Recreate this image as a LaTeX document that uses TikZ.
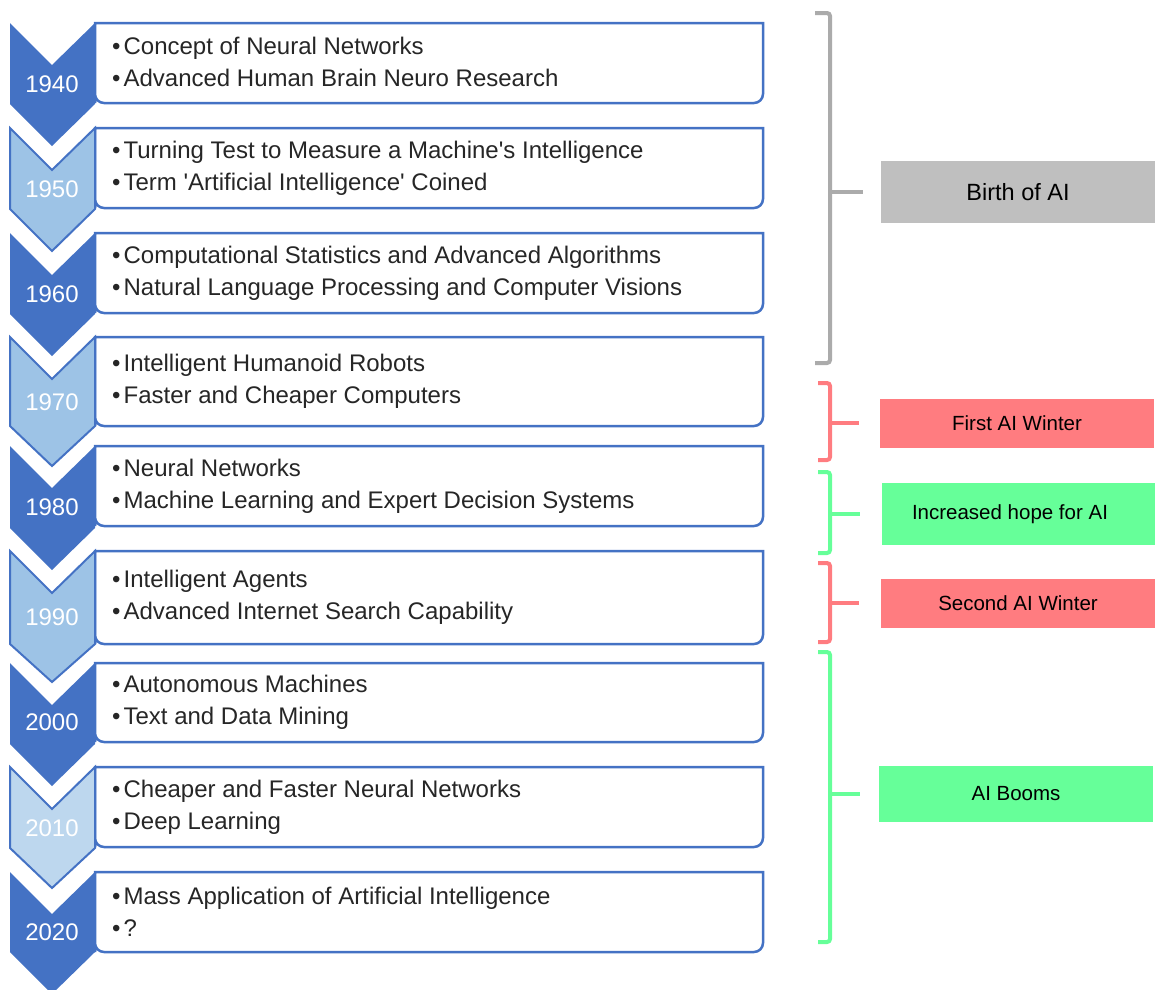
\documentclass[tikz,border=0pt]{standalone}
\usepackage{fontspec}
\setmainfont{Liberation Sans}
\usepackage{xcolor}
\usepackage{tikz}
\definecolor{chevdark}{HTML}{4472C4}
\definecolor{chevlight}{HTML}{9DC3E6}
\definecolor{chevpale}{HTML}{BDD7EE}
\definecolor{birthgray}{HTML}{BFBFBF}
\definecolor{brkgray}{HTML}{ABABAB}
\definecolor{winterred}{HTML}{FF7C80}
\definecolor{hopegreen}{HTML}{66FF99}
\tikzset{
  chevdk/.style={fill=chevdark, draw=none},
  chevlt/.style={fill=chevlight, draw=chevdark, line width=2pt, line join=miter},
  chevpl/.style={fill=chevpale, draw=chevdark, line width=2pt, line join=miter},
  itemframe/.style={draw=chevdark, line width=2.5pt, fill=white},
  itemtext/.style={anchor=west, align=left, inner sep=0pt, text=black!85, font=\fontsize{24}{32}\selectfont},
  yearlbl/.style={text=white, inner sep=0pt, font=\fontsize{24}{28}\selectfont},
  tagbox/.style={minimum width=274pt, inner sep=0pt, text=black},
  brk/.style={line width=4pt, line cap=butt, rounded corners=3pt},
}

\begin{document}
\begin{tikzpicture}[x=1pt, y=-1pt]
\useasboundingbox (0,0) rectangle (1155,989);
\coordinate (brx) at (830,0);

% 1940
\draw[itemframe] (95,103) -- (95,23) -- (763,23) [rounded corners=9pt] -- (763,103) -- (95,103) [sharp corners] -- cycle;
\draw[chevdk] (10,23) -- (52,65) -- (95,23) -- (95,104) -- (52,146) -- (10,104) -- cycle;
\node[yearlbl] (y1940) at (52,84) {1940};
\node[itemtext] (t1940) at (112,62) {\textbullet\hspace{3pt}Concept of Neural Networks\\\textbullet\hspace{3pt}Advanced Human Brain Neuro Research};

% 1950
\draw[itemframe] (95,208) -- (95,128) -- (763,128) [rounded corners=9pt] -- (763,208) -- (95,208) [sharp corners] -- cycle;
\draw[chevlt] (10,128) -- (52,170) -- (95,128) -- (95,209) -- (52,251) -- (10,209) -- cycle;
\node[yearlbl] (y1950) at (52,189) {1950};
\node[itemtext] (t1950) at (112,168) {\textbullet\hspace{3pt}Turning Test to Measure a Machine\textquotesingle s Intelligence\\\textbullet\hspace{3pt}Term \textquotesingle Artificial Intelligence\textquotesingle\ Coined};

% 1960
\draw[itemframe] (95,313) -- (95,233) -- (763,233) [rounded corners=9pt] -- (763,313) -- (95,313) [sharp corners] -- cycle;
\draw[chevdk] (10,233) -- (52,275) -- (95,233) -- (95,314) -- (52,356) -- (10,314) -- cycle;
\node[yearlbl] (y1960) at (52,294) {1960};
\node[itemtext] (t1960) at (112,273) {\textbullet\hspace{3pt}Computational Statistics and Advanced Algorithms\\\textbullet\hspace{3pt}Natural Language Processing and Computer Visions};

% 1970
\draw[itemframe] (95,426) -- (95,337) -- (763,337) [rounded corners=9pt] -- (763,426) -- (95,426) [sharp corners] -- cycle;
\draw[chevlt] (10,337) -- (52,379) -- (95,337) -- (95,426) -- (52,466) -- (10,426) -- cycle;
\node[yearlbl] (y1970) at (52,402) {1970};
\node[itemtext] (t1970) at (112,381) {\textbullet\hspace{3pt}Intelligent Humanoid Robots\\\textbullet\hspace{3pt}Faster and Cheaper Computers};

% 1980
\draw[itemframe] (95,526) -- (95,446) -- (763,446) [rounded corners=9pt] -- (763,526) -- (95,526) [sharp corners] -- cycle;
\draw[chevdk] (10,446) -- (52,488) -- (95,446) -- (95,528) -- (52,570) -- (10,528) -- cycle;
\node[yearlbl] (y1980) at (52,507) {1980};
\node[itemtext] (t1980) at (112,486) {\textbullet\hspace{3pt}Neural Networks\\\textbullet\hspace{3pt}Machine Learning and Expert Decision Systems};

% 1990
\draw[itemframe] (95,644) -- (95,551) -- (763,551) [rounded corners=9pt] -- (763,644) -- (95,644) [sharp corners] -- cycle;
\draw[chevlt] (10,551) -- (52,593) -- (95,551) -- (95,644) -- (52,682) -- (10,644) -- cycle;
\node[yearlbl] (y1990) at (52,617) {1990};
\node[itemtext] (t1990) at (112,597) {\textbullet\hspace{3pt}Intelligent Agents\\\textbullet\hspace{3pt}Advanced Internet Search Capability};

% 2000
\draw[itemframe] (95,742) -- (95,663) -- (763,663) [rounded corners=9pt] -- (763,742) -- (95,742) [sharp corners] -- cycle;
\draw[chevdk] (10,663) -- (52,705) -- (95,663) -- (95,744) -- (52,786) -- (10,744) -- cycle;
\node[yearlbl] (y2000) at (52,722) {2000};
\node[itemtext] (t2000) at (112,702) {\textbullet\hspace{3pt}Autonomous Machines\\\textbullet\hspace{3pt}Text and Data Mining};

% 2010
\draw[itemframe] (95,847) -- (95,767) -- (763,767) [rounded corners=9pt] -- (763,847) -- (95,847) [sharp corners] -- cycle;
\draw[chevpl] (10,767) -- (52,809) -- (95,767) -- (95,848) -- (52,888) -- (10,848) -- cycle;
\node[yearlbl] (y2010) at (52,828) {2010};
\node[itemtext] (t2010) at (112,807) {\textbullet\hspace{3pt}Cheaper and Faster Neural Networks\\\textbullet\hspace{3pt}Deep Learning};

% 2020
\draw[itemframe] (95,952) -- (95,872) -- (763,872) [rounded corners=9pt] -- (763,952) -- (95,952) [sharp corners] -- cycle;
\draw[chevdk] (10,872) -- (52,914) -- (95,872) -- (95,952) -- (52,994) -- (10,952) -- cycle;
\node[yearlbl] (y2020) at (52,932) {2020};
\node[itemtext] (t2020) at (112,912) {\textbullet\hspace{3pt}Mass Application of Artificial Intelligence\\\textbullet\hspace{3pt}?};

% eras
\node[tagbox, fill=birthgray, minimum height=62pt, font=\fontsize{23.5}{26}\selectfont] (birth) at (1018,192) {Birth of AI};
\node[tagbox, fill=winterred, minimum height=49pt, font=\fontsize{20.5}{24}\selectfont] (winter1) at (1017,423) {First AI Winter};
\node[tagbox, fill=hopegreen, minimum height=62pt, font=\fontsize{20.5}{24}\selectfont] (hope) at (1019,514) {\hspace*{-18pt}Increased hope for AI};
\node[tagbox, fill=winterred, minimum height=49pt, font=\fontsize{20.5}{24}\selectfont] (winter2) at (1018,603) {Second AI Winter};
\node[tagbox, fill=hopegreen, minimum height=56pt, font=\fontsize{20.5}{24}\selectfont] (booms) at (1016,794) {AI Booms};

\draw[brk, draw=brkgray] (815,13) -- (830,13) -- (830,363) -- (815,363);
\draw[brk, draw=brkgray] ([xshift=-18pt]birth.west) -- (birth.west -| brx);
\draw[brk, draw=winterred] (818,383) -- (830,383) -- (830,460) -- (818,460);
\draw[brk, draw=winterred] ([xshift=-21pt]winter1.west) -- (winter1.west -| brx);
\draw[brk, draw=hopegreen] (818,472) -- (830,472) -- (830,553) -- (818,553);
\draw[brk, draw=hopegreen] ([xshift=-22pt]hope.west) -- (hope.west -| brx);
\draw[brk, draw=winterred] (818,563) -- (830,563) -- (830,642) -- (818,642);
\draw[brk, draw=winterred] ([xshift=-22pt]winter2.west) -- (winter2.west -| brx);
\draw[brk, draw=hopegreen] (818,652) -- (830,652) -- (830,942) -- (818,942);
\draw[brk, draw=hopegreen] ([xshift=-19pt]booms.west) -- (booms.west -| brx);
\end{tikzpicture}
\end{document}
